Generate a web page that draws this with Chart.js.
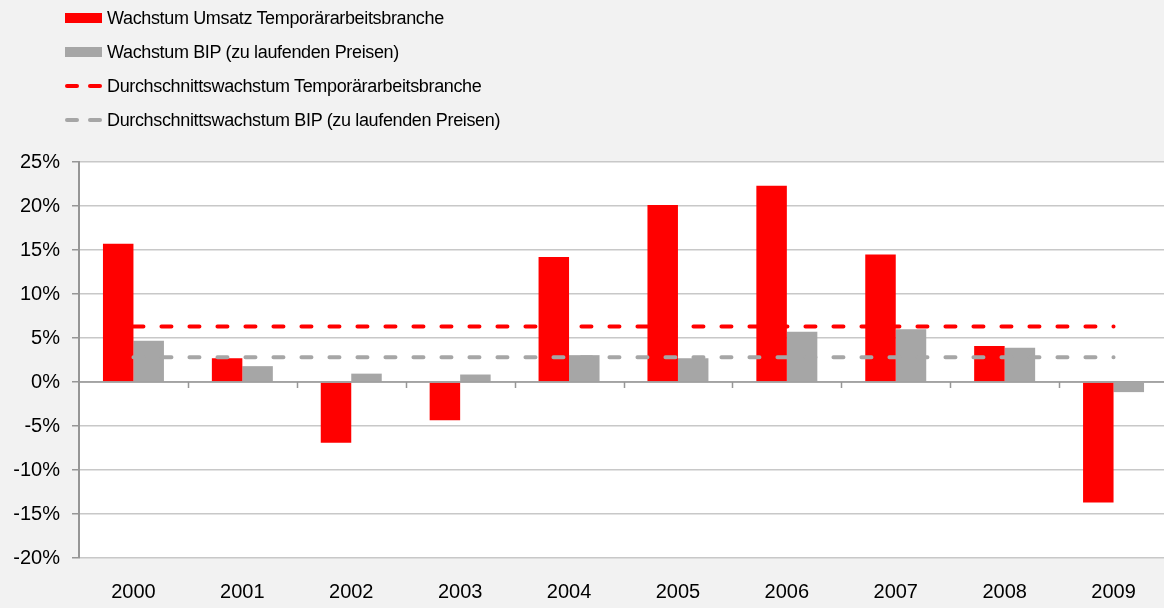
<!DOCTYPE html>
<html>
<head>
<meta charset="utf-8">
<script src="https://cdn.jsdelivr.net/npm/chart.js@4.4.1/dist/chart.umd.min.js"></script>
<style>
  html, body { margin: 0; padding: 0; background: #f2f2f2; overflow: hidden; width: 1164px; height: 608px; }
  #wrap { position: relative; width: 1172px; height: 608px; }
  #legend { position: absolute; left: 65px; top: 1px; font-family: "Liberation Sans", Arial, sans-serif; font-size: 18px; letter-spacing: -0.35px; color: #000; }
  .item { height: 34px; display: flex; align-items: center; }
  .sym { width: 37px; height: 10px; margin-right: 5px; position: relative; }
  .dash { position: absolute; top: 3px; height: 4px; width: 14px; border-radius: 2px; }
</style>
</head>
<body>
<div id="wrap">
  <canvas id="c" width="1172" height="608"></canvas>
  <div id="legend"></div>
</div>
<script>
const categories = ['2000','2001','2002','2003','2004','2005','2006','2007','2008','2009'];
const umsatz = [15.7, 2.7, -6.9, -4.35, 14.2, 20.1, 22.3, 14.5, 4.1, -13.7];
const bip = [4.7, 1.8, 0.95, 0.85, 3.05, 2.7, 5.7, 6.0, 3.9, -1.15];
const avgUmsatz = [6.3, 6.3, 6.3, 6.3, 6.3, 6.3, 6.3, 6.3, 6.3, 6.3];
const avgBip = [2.8, 2.8, 2.8, 2.8, 2.8, 2.8, 2.8, 2.8, 2.8, 2.8];
const yTicks = [25, 20, 15, 10, 5, 0, -5, -10, -15, -20];

const RED = '#ff0000', GRAY = '#a6a6a6';

const plotBg = {
  id: 'plotBg',
  beforeDraw(chart) {
    const {ctx, chartArea: a} = chart;
    ctx.save();
    ctx.fillStyle = '#ffffff';
    ctx.fillRect(a.left, a.top, a.right - a.left, a.bottom - a.top);
    ctx.restore();
  },
  afterDatasetsDraw(chart) {
    const {ctx, chartArea: a, scales: {x, y}} = chart;
    const y0 = y.getPixelForValue(0);
    ctx.save();
    ctx.strokeStyle = '#969696';
    ctx.lineWidth = 1.5;
    ctx.beginPath();
    ctx.moveTo(a.left, y0); ctx.lineTo(a.right, y0);
    const half = (x.getPixelForValue(1) - x.getPixelForValue(0)) / 2;
    for (let i = 1; i < categories.length; i++) {
      const px = Math.round(x.getPixelForValue(i) - half) + 0.5;
      ctx.moveTo(px, y0); ctx.lineTo(px, y0 + 6);
    }
    ctx.stroke();
    ctx.restore();
  }
};

const chart = new Chart(document.getElementById('c'), {
  data: {
    labels: categories,
    datasets: [
      { type: 'line', label: 'Durchschnittswachstum Temporärarbeitsbranche', data: avgUmsatz,
        borderColor: RED, borderWidth: 4, borderDash: [10, 18], borderCapStyle: 'round',
        pointRadius: 0, fill: false, order: 0 },
      { type: 'line', label: 'Durchschnittswachstum BIP (zu laufenden Preisen)', data: avgBip,
        borderColor: GRAY, borderWidth: 4, borderDash: [10, 18], borderCapStyle: 'round',
        pointRadius: 0, fill: false, order: 0 },
      { type: 'bar', label: 'Wachstum Umsatz Temporärarbeitsbranche', data: umsatz,
        backgroundColor: RED, categoryPercentage: 0.56, barPercentage: 1, order: 1 },
      { type: 'bar', label: 'Wachstum BIP (zu laufenden Preisen)', data: bip,
        backgroundColor: GRAY, categoryPercentage: 0.56, barPercentage: 1, order: 1 }
    ]
  },
  options: {
    responsive: false,
    animation: false,
    layout: { padding: { top: 162, right: 4, bottom: 0, left: 0 } },
    plugins: { legend: { display: false }, tooltip: { enabled: false } },
    scales: {
      x: {
        offset: true,
        afterFit(s) { s.height = 50; },
        grid: { display: false },
        border: { display: false },
        ticks: { color: '#000', font: { family: 'Liberation Sans', size: 20 }, padding: 14, maxRotation: 0 }
      },
      y: {
        min: -20, max: 25,
        afterFit(s) { s.width = 79; },
        afterBuildTicks(s) { s.ticks = yTicks.map(v => ({ value: v })); },
        grid: { color: '#c8c8c8', lineWidth: 1.5, tickLength: 7, tickColor: '#969696', drawTicks: true },
        border: { display: true, color: '#969696', width: 2 },
        ticks: { color: '#000', font: { family: 'Liberation Sans', size: 20 }, padding: 12,
          callback: v => v + '%' }
      }
    }
  },
  plugins: [plotBg]
});

const order = [2, 3, 0, 1];
const leg = document.getElementById('legend');
order.forEach(i => {
  const ds = chart.data.datasets[i];
  const item = document.createElement('div'); item.className = 'item';
  const sym = document.createElement('div'); sym.className = 'sym';
  if (ds.type === 'bar') {
    sym.style.background = ds.backgroundColor;
  } else {
    [0, 23].forEach(l => {
      const d = document.createElement('div'); d.className = 'dash';
      d.style.left = l + 'px'; d.style.background = ds.borderColor; sym.appendChild(d);
    });
  }
  const t = document.createElement('span'); t.textContent = ds.label;
  item.appendChild(sym); item.appendChild(t); leg.appendChild(item);
});
</script>
</body>
</html>
